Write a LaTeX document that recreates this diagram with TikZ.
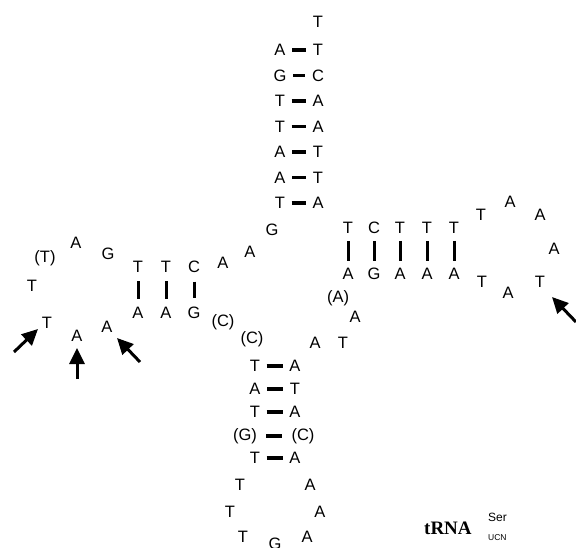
\documentclass[tikz,border=0pt]{standalone}
\usepackage{fontspec}
\setmainfont{Liberation Sans}
\newfontfamily\tnr{Liberation Serif}
\usetikzlibrary{arrows.meta}
\begin{document}
\begin{tikzpicture}[x=1pt,y=-1pt,
  nt/.style={font=\fontsize{16.5}{16.5}\selectfont, inner sep=0pt},
  hp/.style={line width=3.6pt, shorten <=6.5pt, shorten >=6.5pt},
  vp/.style={line width=3pt, shorten <=7pt, shorten >=7pt},
  arr/.style={line width=3pt, -{Triangle[length=16pt,width=15pt]}}]
\useasboundingbox (0,0) rectangle (576,548);
% acceptor stem
\node[nt] (t0) at (318,22) {T};
\node[nt] (a1l) at (280,50) {A};  \node[nt] (a1r) at (318,50) {T};
\node[nt] (a2l) at (280,75.5) {G};  \node[nt] (a2r) at (318,75.5) {C};
\node[nt] (a3l) at (280,101) {T}; \node[nt] (a3r) at (318,101) {A};
\node[nt] (a4l) at (280,126.5) {T}; \node[nt] (a4r) at (318,126.5) {A};
\node[nt] (a5l) at (280,152) {A}; \node[nt] (a5r) at (318,152) {T};
\node[nt] (a6l) at (280,177.5) {A}; \node[nt] (a6r) at (318,177.5) {T};
\node[nt] (a7l) at (280,203) {T}; \node[nt] (a7r) at (318,203) {A};
\foreach \i in {1,...,7} \draw[hp] (a\i l) -- (a\i r);
% junction
\node[nt] (j1) at (272,230) {G};
\node[nt] (j2) at (250,252) {A};
\node[nt] (j3) at (223,263) {A};
% D stem
\node[nt] (d1t) at (138,267) {T}; \node[nt] (d1b) at (138,313) {A};
\node[nt] (d2t) at (166,267) {T}; \node[nt] (d2b) at (166,313) {A};
\node[nt] (d3t) at (194,267) {C}; \node[nt] (d3b) at (194,313) {G};
\foreach \i in {1,2,3} \draw[vp, shorten <=8.5pt, shorten >=8.5pt] (d\i t) -- (d\i b);
% D loop
\node[nt] (dl1) at (108,254) {G};
\node[nt] (dl2) at (76,243) {A};
\node[nt] (dl3) at (45,258) {(T)};
\node[nt] (dl4) at (32,286) {T};
\node[nt] (dl5) at (47,323) {T};
\node[nt] (dl6) at (77,336) {A};
\node[nt] (dl7) at (107,327) {A};
\node[nt] (c1) at (223,322) {(C)};
\node[nt] (c2) at (252,339) {(C)};
% anticodon stem
\node[nt] (s1l) at (255,366) {T};   \node[nt] (s1r) at (295,366) {A};
\node[nt] (s2l) at (255,389) {A};   \node[nt] (s2r) at (295,389) {T};
\node[nt] (s3l) at (255,412) {T};   \node[nt] (s3r) at (295,412) {A};
\node[nt] (s4l) at (245,436) {(G)}; \node[nt] (s4r) at (303,436) {(C)};
\node[nt] (s5l) at (255,458) {T};   \node[nt] (s5r) at (295,458) {A};
\foreach \i in {1,2,3,5} \draw[hp] (s\i l) -- (s\i r);
\draw[hp, shorten <=9pt, shorten >=9pt] (s4l) -- (s4r);
% anticodon loop
\node[nt] (l1) at (240,485) {T};
\node[nt] (l2) at (230,512) {T};
\node[nt] (l3) at (243,537) {T};
\node[nt] (l4) at (275,544) {G};
\node[nt] (l5) at (307,537) {A};
\node[nt] (l6) at (320,512) {A};
\node[nt] (l7) at (310,485) {A};
% variable loop
\node[nt] (v1) at (315,343) {A};
\node[nt] (v2) at (343,343) {T};
\node[nt] (v3) at (355,317) {A};
\node[nt] (v4) at (338,298) {(A)};
% T stem
\node[nt] (e1t) at (348,228) {T}; \node[nt] (e1b) at (348,274) {A};
\node[nt] (e2t) at (374,228) {C}; \node[nt] (e2b) at (374,274) {G};
\node[nt] (e3t) at (400,228) {T}; \node[nt] (e3b) at (400,274) {A};
\node[nt] (e4t) at (427,228) {T}; \node[nt] (e4b) at (427,274) {A};
\node[nt] (e5t) at (454,228) {T}; \node[nt] (e5b) at (454,274) {A};
\foreach \i in {1,...,5} \draw[vp] (e\i t) -- (e\i b);
% T loop
\node[nt] (tl1) at (481,215) {T};
\node[nt] (tl2) at (510,202) {A};
\node[nt] (tl3) at (540,215) {A};
\node[nt] (tl4) at (554,249) {A};
\node[nt] (tl5) at (540,282) {T};
\node[nt] (tl6) at (508,293) {A};
\node[nt] (tl7) at (482,282) {T};
% arrows
\coordinate (p1) at (14,352);  \coordinate (q1) at (38,329);
\coordinate (p2) at (77,379);  \coordinate (q2) at (77,348);
\coordinate (p3) at (140,362); \coordinate (q3) at (117,338);
\coordinate (p4) at (576,322); \coordinate (q4) at (552,297);
\draw[arr] (p1) -- (q1);
\draw[arr] (p2) -- (q2);
\draw[arr] (p3) -- (q3);
\draw[arr] (p4) -- (q4);
% label
\node[inner sep=0pt, anchor=base west, font=\tnr\bfseries\fontsize{19}{19}\selectfont] (lab) at (424,534) {tRNA};
\node[inner sep=0pt, anchor=base west, font=\fontsize{12}{12}\selectfont] (sup) at (488,521) {Ser};
\node[inner sep=0pt, anchor=base west, font=\fontsize{8.5}{8.5}\selectfont] (sub) at (488,540) {UCN};
\end{tikzpicture}
\end{document}
